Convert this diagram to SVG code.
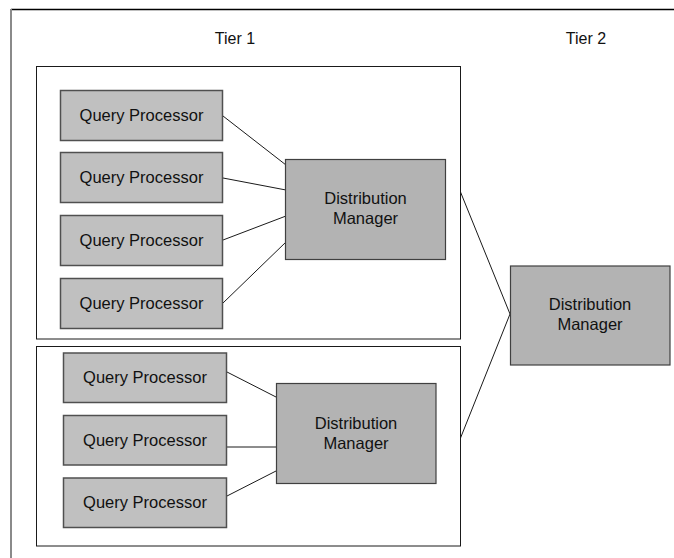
<svg xmlns="http://www.w3.org/2000/svg" width="674" height="558" viewBox="0 0 674 558">
  <style>
    .frame { fill: none; stroke: #1a1a1a; stroke-width: 1; }
    .qp { fill: #c0c0c0; stroke: #505050; stroke-width: 1.5; }
    .dm { fill: #b3b3b3; stroke: #404040; stroke-width: 1.2; }
    .label { font-family: "Liberation Sans", Arial, sans-serif; font-size: 16.5px; fill: #111; text-anchor: middle; }
    .tier { font-size: 16px; }
    .link { stroke: #1a1a1a; stroke-width: 1; fill: none; }
  </style>
  <rect x="0" y="0" width="674" height="558" fill="#ffffff"/>

  <!-- outer page border -->
  <line x1="11" y1="9.5" x2="674" y2="9.5" stroke="#000" stroke-width="1.5"/>
  <line x1="11" y1="9" x2="11" y2="558" stroke="#8a8a8a" stroke-width="2"/>

  <!-- tier headings -->
  <text class="label tier" x="235" y="44">Tier 1</text>
  <text class="label tier" x="586" y="44">Tier 2</text>

  <!-- tier 1 group frames -->
  <rect id="group-upper" class="frame" x="36.5" y="66.5" width="424" height="272.5"/>
  <rect id="group-lower" class="frame" x="36.5" y="346.5" width="424" height="199.5"/>

  <!-- connectors -->
  <g id="connectors">
    <line class="link" x1="223" y1="116" x2="286" y2="165"/>
    <line class="link" x1="223" y1="178" x2="286" y2="190"/>
    <line class="link" x1="223" y1="240" x2="286" y2="216"/>
    <line class="link" x1="223" y1="303" x2="286" y2="242"/>
    <line class="link" x1="227" y1="372" x2="276" y2="397"/>
    <line class="link" x1="227" y1="447" x2="276" y2="447"/>
    <line class="link" x1="227" y1="496" x2="276" y2="471"/>
    <line class="link" x1="460.5" y1="192" x2="510" y2="314"/>
    <line class="link" x1="460.5" y1="438" x2="510" y2="314"/>
  </g>

  <!-- upper group nodes -->
  <g id="qp-1">
    <rect class="qp" x="60.5" y="90.5" width="162" height="50"/>
    <text class="label" x="141.5" y="121">Query Processor</text>
  </g>
  <g id="qp-2">
    <rect class="qp" x="60.5" y="152.5" width="162" height="50"/>
    <text class="label" x="141.5" y="183">Query Processor</text>
  </g>
  <g id="qp-3">
    <rect class="qp" x="60.5" y="215.5" width="162" height="50"/>
    <text class="label" x="141.5" y="246">Query Processor</text>
  </g>
  <g id="qp-4">
    <rect class="qp" x="60.5" y="278.5" width="162" height="50"/>
    <text class="label" x="141.5" y="309">Query Processor</text>
  </g>
  <g id="dm-upper">
    <rect class="dm" x="285.5" y="159.5" width="160" height="100"/>
    <text class="label" x="365.5" y="204">Distribution</text>
    <text class="label" x="365.5" y="224">Manager</text>
  </g>

  <!-- lower group nodes -->
  <g id="qp-5">
    <rect class="qp" x="63.5" y="353" width="163" height="49.5"/>
    <text class="label" x="145" y="383">Query Processor</text>
  </g>
  <g id="qp-6">
    <rect class="qp" x="63.5" y="415.5" width="163" height="49.5"/>
    <text class="label" x="145" y="446">Query Processor</text>
  </g>
  <g id="qp-7">
    <rect class="qp" x="63.5" y="478" width="163" height="49.5"/>
    <text class="label" x="145" y="508">Query Processor</text>
  </g>
  <g id="dm-lower">
    <rect class="dm" x="276.5" y="383.5" width="159.5" height="100"/>
    <text class="label" x="356" y="429">Distribution</text>
    <text class="label" x="356" y="449">Manager</text>
  </g>

  <!-- tier 2 node -->
  <g id="dm-tier2">
    <rect class="dm" x="510.5" y="266" width="159.5" height="99"/>
    <text class="label" x="590" y="310">Distribution</text>
    <text class="label" x="590" y="330">Manager</text>
  </g>
</svg>
